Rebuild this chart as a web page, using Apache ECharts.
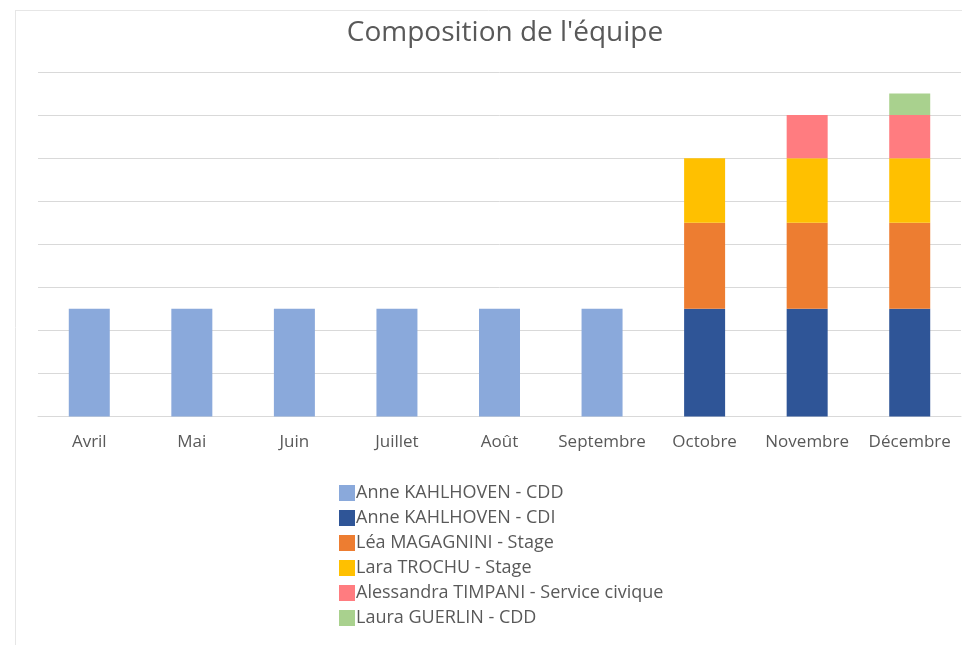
<!DOCTYPE html>
<html>
<head>
<meta charset="utf-8">
<style>
  html, body { margin: 0; padding: 0; background: #fff; }
  #chart { width: 962px; height: 645px; }
</style>
<script src="https://cdn.jsdelivr.net/npm/echarts@6/dist/echarts.min.js"></script>
</head>
<body>
<div id="chart"></div>
<script>
// mois
var months = ["Avril", "Mai", "Juin", "Juillet", "Août", "Septembre", "Octobre", "Novembre", "Décembre"];
// personnes (ordre de la légende / empilement)
var seriesNames = [
  "Anne KAHLHOVEN - CDD",
  "Anne KAHLHOVEN - CDI",
  "Léa MAGAGNINI - Stage",
  "Lara TROCHU - Stage",
  "Alessandra TIMPANI - Service civique",
  "Laura GUERLIN - CDD"
];
var anneCdd = [2.5, 2.5, 2.5, 2.5, 2.5, 2.5, 0, 0, 0];
var anneCdi = [0, 0, 0, 0, 0, 0, 2.5, 2.5, 2.5];
var leaStage = [0, 0, 0, 0, 0, 0, 2, 2, 2];
var laraStage = [0, 0, 0, 0, 0, 0, 1.5, 1.5, 1.5];
var alessandraSc = [0, 0, 0, 0, 0, 0, 0, 1, 1];
var lauraCdd = [0, 0, 0, 0, 0, 0, 0, 0, 0.5];
var seriesData = [anneCdd, anneCdi, leaStage, laraStage, alessandraSc, lauraCdd];
var colors = ["#8aa9db", "#2f5597", "#ed7d31", "#ffc000", "#ff7c80", "#a9d18e"];

var myChart = echarts.init(document.getElementById("chart"));
var font = "'Open Sans', 'Noto Sans', sans-serif";

var option = {
  animation: false,
  backgroundColor: "#fff",
  title: {
    text: "Composition de l'équipe",
    left: 500,
    textAlign: "center",
    top: 14,
    textStyle: { color: "#595959", fontSize: 28, fontWeight: "normal", fontFamily: font }
  },
  graphic: [
    // cadre du graphique
    { type: "line", shape: { x1: 15, y1: 10.5, x2: 962, y2: 10.5 }, style: { stroke: "#e6e6e6", lineWidth: 1 } },
    { type: "line", shape: { x1: 15.5, y1: 10, x2: 15.5, y2: 645 }, style: { stroke: "#e6e6e6", lineWidth: 1 } }
  ],
  legend: {
    orient: "vertical",
    left: 334,
    top: 479,
    itemWidth: 16,
    itemHeight: 16,
    itemGap: 7,
    icon: "rect",
    textStyle: { color: "#595959", fontSize: 18, lineHeight: 18, fontFamily: font, padding: [0, 0, 0, -4] },
    data: seriesNames
  },
  grid: { left: 38, right: 1, top: 72, bottom: 228.5 },
  xAxis: {
    type: "category",
    data: months,
    axisTick: { show: false },
    axisLine: { lineStyle: { color: "#d9d9d9", width: 1 } },
    axisLabel: { color: "#595959", fontSize: 17, fontFamily: font, margin: 17, interval: 0 }
  },
  yAxis: {
    type: "value",
    min: 0,
    max: 8,
    interval: 1,
    axisLabel: { show: false },
    axisLine: { show: false },
    axisTick: { show: false },
    splitLine: { lineStyle: { color: "#d9d9d9", width: 1 } }
  },
  series: seriesNames.map(function (name, i) {
    return {
      name: name,
      type: "bar",
      stack: "total",
      barWidth: 41,
      itemStyle: { color: colors[i] },
      data: seriesData[i].map(function (v) { return v === 0 ? null : v; })
    };
  })
};
myChart.setOption(option);
</script>
</body>
</html>
